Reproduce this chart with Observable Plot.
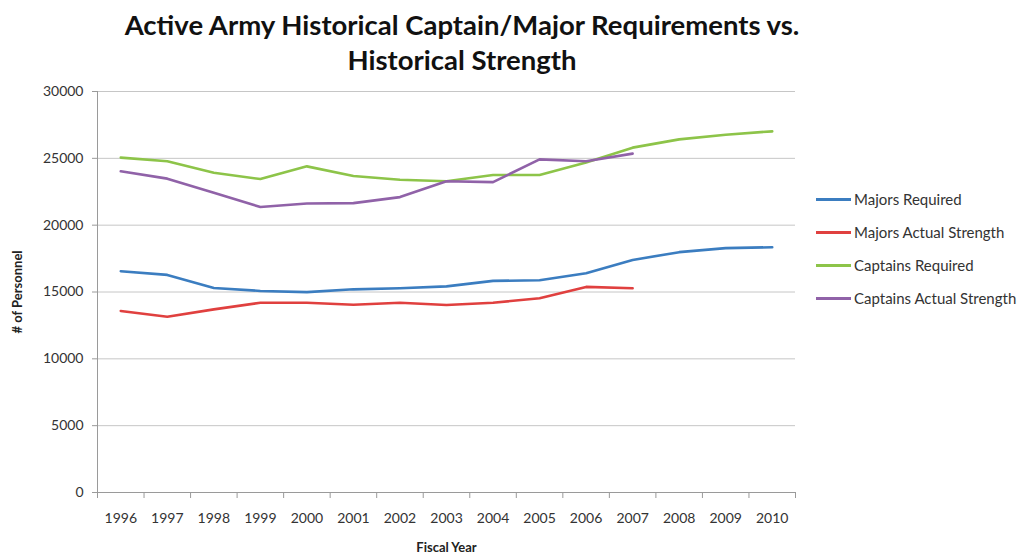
<!DOCTYPE html>
<html>
<head>
<meta charset="utf-8">
<script src="https://cdn.jsdelivr.net/npm/d3@7"></script>
<script src="https://cdn.jsdelivr.net/npm/@observablehq/plot@0.6"></script>
<style>
  html, body { margin: 0; padding: 0; background: #fff; }
  #wrap { position: relative; width: 1023px; height: 558px; font-family: Lato, "Open Sans", sans-serif; color: #333; }
  #wrap svg { position: absolute; left: 0; top: 0; }
  .title { position: absolute; left: 0; width: 924px; text-align: center; font-weight: bold; font-size: 27.5px; color: #111; line-height: 1; }
  .leg { position: absolute; left: 816px; font-size: 15px; color: #333; display: flex; align-items: center; white-space: nowrap; }
  .leg span.sw { display: inline-block; width: 35px; height: 3px; margin-right: 3px; }
</style>
</head>
<body>
<div id="wrap">
</div>
<script>
const years = [1996, 1997, 1998, 1999, 2000, 2001, 2002, 2003, 2004, 2005, 2006, 2007, 2008, 2009, 2010];
const majorsRequired = [16550, 16280, 15300, 15080, 14990, 15200, 15280, 15420, 15830, 15880, 16400, 17400, 17980, 18280, 18350];
const majorsActual = [13580, 13150, 13700, 14200, 14200, 14050, 14200, 14030, 14200, 14530, 15380, 15280];
const captainsRequired = [25050, 24780, 23920, 23450, 24400, 23680, 23400, 23280, 23750, 23750, 24680, 25800, 26420, 26770, 27020];
const captainsActual = [24030, 23480, 22420, 21360, 21620, 21650, 22100, 23280, 23220, 24920, 24780, 25350];
const seriesNames = ["Majors Required", "Majors Actual Strength", "Captains Required", "Captains Actual Strength"];
const seriesColors = ["#3b7dc0", "#e0403f", "#8dc449", "#9062a8"];
const yTicks = [0, 5000, 10000, 15000, 20000, 25000, 30000];

const seriesValues = [majorsRequired, majorsActual, captainsRequired, captainsActual];
const rows = [];
seriesValues.forEach((vals, s) => vals.forEach((v, i) => rows.push({ series: seriesNames[s], year: years[i], value: v })));
const bounds = years.map(y => y - 0.5).concat([years[years.length - 1] + 0.5]);

const chart = Plot.plot({
  width: 1023,
  height: 558,
  marginLeft: 97,
  marginRight: 228,
  marginTop: 91,
  marginBottom: 66,
  style: { fontFamily: "Lato, 'Open Sans', sans-serif", fontSize: "14px", color: "#333", background: "transparent" },
  x: { type: "linear", domain: [years[0] - 0.5, years[years.length - 1] + 0.5] },
  y: { domain: [0, 30000] },
  color: { domain: seriesNames, range: seriesColors },
  marks: [
    Plot.gridY(yTicks, { stroke: "#c6c6c6", strokeOpacity: 1, strokeWidth: 1 }),
    Plot.axisY({ ticks: yTicks, tickSize: 5, tickPadding: 9, tickFormat: d => String(d), label: null, stroke: "#9a9a9a", fontSize: 14 }),
    Plot.ruleX([years[0] - 0.5], { stroke: "#9a9a9a" }),
    Plot.axisX({ ticks: bounds, tickSize: 6, tickFormat: () => "", label: null, stroke: "#9a9a9a" }),
    Plot.axisX({ ticks: years, tickSize: 0, tickPadding: 21, tickFormat: d => String(d), label: null, fontSize: 14 }),
    Plot.ruleY([0], { stroke: "#9a9a9a" }),
    Plot.line(rows, { x: "year", y: "value", z: "series", stroke: "series", strokeWidth: 2.6, curve: "linear" }),
    Plot.text(["Fiscal Year"], { frameAnchor: "bottom", dy: 59, fontWeight: "bold", fontSize: 13, fill: "#222" }),
    Plot.text(["# of Personnel"], { frameAnchor: "left", textAnchor: "middle", dx: -80, rotate: -90, fontWeight: "bold", fontSize: 13, fill: "#222" })
  ]
});
const wrap = document.getElementById("wrap");
wrap.appendChild(chart);

const t1 = document.createElement("div");
t1.className = "title"; t1.style.top = "11px"; t1.textContent = "Active Army Historical Captain/Major Requirements vs.";
wrap.appendChild(t1);
const t2 = document.createElement("div");
t2.className = "title"; t2.style.top = "46px"; t2.textContent = "Historical Strength";
wrap.appendChild(t2);

const legTops = [190, 223, 256, 289];
seriesNames.forEach((name, i) => {
  const d = document.createElement("div");
  d.className = "leg"; d.style.top = legTops[i] + "px";
  const sw = document.createElement("span");
  sw.className = "sw"; sw.style.background = seriesColors[i];
  d.appendChild(sw);
  d.appendChild(document.createTextNode(name));
  wrap.appendChild(d);
});
</script>
</body>
</html>
